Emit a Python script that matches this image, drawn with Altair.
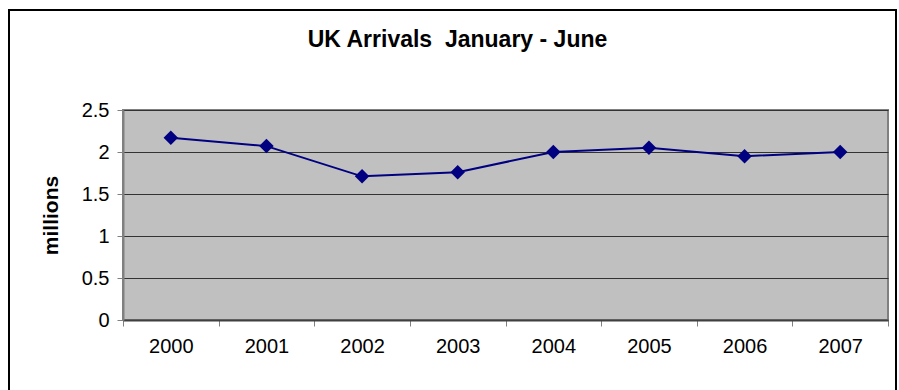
import altair as alt
import pandas as pd

years = [2000, 2001, 2002, 2003, 2004, 2005, 2006, 2007]
arrivals = [2.17, 2.07, 1.71, 1.76, 2.00, 2.05, 1.95, 2.00]
y_ticks = [0, 0.5, 1, 1.5, 2, 2.5]

df = pd.DataFrame({"year": years, "arrivals": arrivals})

# tick marks at category boundaries, labels at category centres
x_values = []
for y in years:
    x_values += [y - 0.5, y]
x_values.append(years[-1] + 0.5)

FONT = "Liberation Sans"
NAVY = "#000080"

x_enc = alt.X(
    "year:Q",
    scale=alt.Scale(domain=[years[0] - 0.5, years[-1] + 0.5], nice=False, zero=False),
    axis=alt.Axis(
        title=None,
        values=x_values,
        labelExpr="datum.value % 1 === 0 ? format(datum.value, 'd') : ''",
        grid=False,
        tickSize=6,
        tickColor="#808080",
        tickOpacity={"condition": {"test": "datum.value % 1 === 0", "value": 0}, "value": 1},
        domainColor="#404040",
        domainWidth=2,
        labelFont=FONT,
        labelFontSize=20,
        labelColor="#000000",
        labelPadding=10,
        labelFlush=False,
        labelOverlap=False,
    ),
)
y_enc = alt.Y(
    "arrivals:Q",
    scale=alt.Scale(domain=[0, 2.5], nice=False),
    axis=alt.Axis(
        title="millions",
        values=y_ticks,
        format="~g",
        grid=True,
        gridColor="#333333",
        gridWidth=1,
        tickSize=6,
        tickColor="#808080",
        domainColor="#808080",
        domainWidth=2,
        labelFont=FONT,
        labelFontSize=20,
        labelColor="#000000",
        labelPadding=8,
        titleFont=FONT,
        titleFontSize=21,
        titleFontWeight="bold",
        titleColor="#000000",
        titlePadding=20,
    ),
)

base = alt.Chart(df)
line = base.mark_line(color=NAVY, strokeWidth=2).encode(x=x_enc, y=y_enc)
pts = base.mark_point(shape="diamond", filled=True, color=NAVY, size=210, opacity=1).encode(
    x="year:Q", y="arrivals:Q"
)

frame = alt.Chart(pd.DataFrame({"k": [0]})).mark_rect(
    fill=None, stroke="#000000", strokeWidth=2
).encode(
    x=alt.value(-114), x2=alt.value(773), y=alt.value(-100), y2=alt.value(300)
)

chart = (
    alt.layer(line, pts, frame)
    .properties(
        width=765,
        height=210,
        title=alt.TitleParams(
            "UK Arrivals\u00a0 January - June",
            font=FONT,
            fontSize=23,
            fontWeight="bold",
            color="#000000",
            anchor="middle",
            frame="group",
            dx=-48,
            dy=125,
            baseline="alphabetic",
            offset=64,
        ),
        autosize=alt.AutoSizeParams(type="none"),
        padding={"left": 123, "top": 110, "right": 11, "bottom": 70},
        background="#ffffff",
    )
    .configure_view(fill="#C0C0C0", stroke="#808080", strokeWidth=2)
)

chart.save("out.html", embed_options={"renderer": "svg", "actions": False})
